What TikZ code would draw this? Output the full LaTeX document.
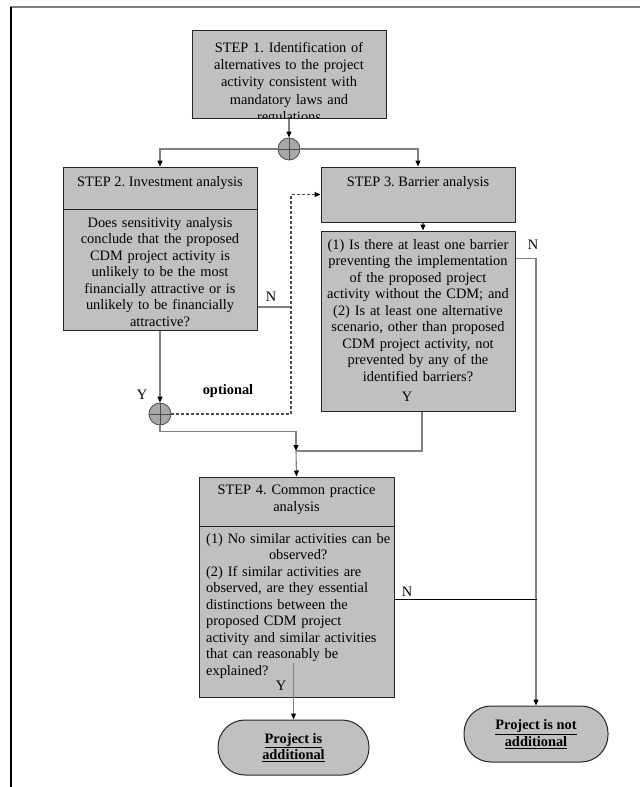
\documentclass[tikz,border=0pt]{standalone}
\usepackage{fontspec}
\setmainfont{Liberation Serif}
\usetikzlibrary{arrows.meta}
\frenchspacing

\definecolor{boxgray}{HTML}{C0C0C0}
\definecolor{linegray}{HTML}{808080}
\definecolor{jgray}{HTML}{A8A8A8}

\tikzset{
    box/.style={draw=black!85, line width=1pt, fill=boxgray, inner sep=0pt},
    term/.style={box, rounded corners=27pt, align=center,
	font=\fontsize{14.4}{16.5}\selectfont\bfseries},
    txt/.style={font=\fontsize{14.4}{16.5}\selectfont, inner sep=0pt, anchor=north},
    lab/.style={font=\fontsize{14.4}{16.5}\selectfont, inner sep=0pt},
    junc/.style={circle, draw=black!70, fill=jgray, line width=0.8pt,
	minimum size=22pt, inner sep=0pt,
	path picture={\draw[black!70, line width=0.8pt]
	    (path picture bounding box.north) -- (path picture bounding box.south)
	    (path picture bounding box.west) -- (path picture bounding box.east);}},
    conn/.style={draw=linegray, line width=1.1pt,
	-{Triangle[length=6pt, width=5pt, color=black]}},
    dconn/.style={conn, draw=black!70, dash pattern=on 3pt off 2pt}
}

\begin{document}
\begin{tikzpicture}[x=1pt, y=-1pt]
    \useasboundingbox (0, 0) rectangle (640, 787);
    \draw[linegray, line width=2pt] (10, 7) -- (640, 7);
    \draw[black, line width=1.5pt] (11, 7) -- (11, 787);

    % boxes
    \node[box, minimum width=194pt, minimum height=88pt] (step1) at (289, 74) {};
    \node[box, minimum width=194pt, minimum height=42pt] (step2) at (160, 188) {};
    \node[box, minimum width=194pt, minimum height=121pt] (q2) at (160, 269.5) {};
    \node[box, minimum width=194pt, minimum height=55pt] (step3) at (418, 194.5) {};
    \node[box, minimum width=194pt, minimum height=180pt] (q3) at (418, 321) {};
    \node[box, minimum width=195pt, minimum height=49pt] (step4) at (296.5, 501.5) {};
    \node[box, minimum width=195pt, minimum height=171pt] (q4) at (296.5, 611.5) {};
    \node[term, minimum width=151pt, minimum height=55pt] (yes) at (293.5, 747.5)
	{\underline{Project is}\\\underline{additional}};
    \node[term, minimum width=144pt, minimum height=56pt] (no) at (536, 734)
	{\underline{Project is not}\\\underline{additional}};
    \node[junc] (j1) at (289, 149) {};
    \node[junc] (j2) at (160, 414) {};

    % texts
    \begin{scope}
	\clip (step1.north west) rectangle (step1.south east);
	\node[txt, text width=190pt, align=center,
	    font=\fontsize{14.4}{17.3}\selectfont] (t1) at (289, 42)
	    {STEP 1. Identification of\\alternatives to the project\\activity consistent with\\mandatory laws and\\regulations};
    \end{scope}
    \draw[black!85, line width=1pt] (step1.south west) -- (step1.south east);
    \node[txt] (t2) at (160, 176) {STEP 2. Investment analysis};
    \node[txt, text width=190pt, align=center] (tq2) at (160, 217)
	{Does sensitivity analysis\\conclude that the proposed\\CDM project activity is\\unlikely to be the most\\financially attractive or is\\unlikely to be financially\\attractive?};
    \node[txt] (t3) at (418, 176) {STEP 3. Barrier analysis};
    \node[txt, text width=190pt, align=center] (tq3) at (418, 239)
	{(1) Is there at least one barrier\\preventing the implementation\\of the proposed project\\activity without the CDM; and\\(2) Is at least one alternative\\scenario, other than proposed\\CDM project activity, not\\prevented by any of the\\identified barriers?};
    \node[txt, text width=190pt, align=center] (t4) at (296.5, 485)
	{STEP 4. Common practice\\analysis};
    \node[txt, anchor=north west, text width=184pt, align=left] (tq4) at (206, 533)
	{{\centering (1) No similar activities can be\\observed?\par}(2) If similar activities are\\observed, are they essential\\distinctions between the\\proposed CDM project\\activity and similar activities\\that can reasonably be\\explained?};

    % labels
    \node[lab] (n2) at (271, 297) {N};
    \node[lab] (y2) at (142, 395) {Y};
    \node[lab, font=\fontsize{14.4}{16.5}\selectfont\bfseries] (opt) at (228, 391) {optional};
    \node[lab] (n3) at (533, 245) {N};
    \node[lab] (y3) at (407, 397) {Y};
    \node[lab] (n4) at (407, 592) {N};
    \node[lab] (y4) at (281, 686) {Y};

    \coordinate (d2) at (291, 414);
    \coordinate (e2) at (291, 307);
    \coordinate (m) at (296, 451);
    \coordinate (e4) at (537, 599);
    \coordinate (s4) at (293.5, 663);

    % connectors
    \draw[conn] (step1.south) -- (j1.north);
    \draw[conn] (j1.west) -| (step2.north);
    \draw[conn] (j1.east) -| (step3.north);
    \draw[conn] (q2.south) -- (j2.north);
    \draw[draw=linegray, line width=1.1pt] (q2.east |- e2) -- (e2);
    \draw[dconn] (j2.east) -- (d2) |- (step3.west);
    \draw[conn] ([xshift=5pt]step3.south) -- ([xshift=5pt]q3.north);
    \draw[conn] ([yshift=-28pt]q3.north east) -| (no.north);
    \draw[conn] (j2.south) -- ++(0, 6) -| (m);
    \draw[draw=linegray, line width=1.1pt] ([xshift=4pt]q3.south) |- (m);
    \draw[conn] (m) -- (step4.north);
    \draw[black, line width=1pt] (q4.east |- e4) -- (e4);
    \draw[conn] (s4) -- (yes.north);
\end{tikzpicture}
\end{document}
